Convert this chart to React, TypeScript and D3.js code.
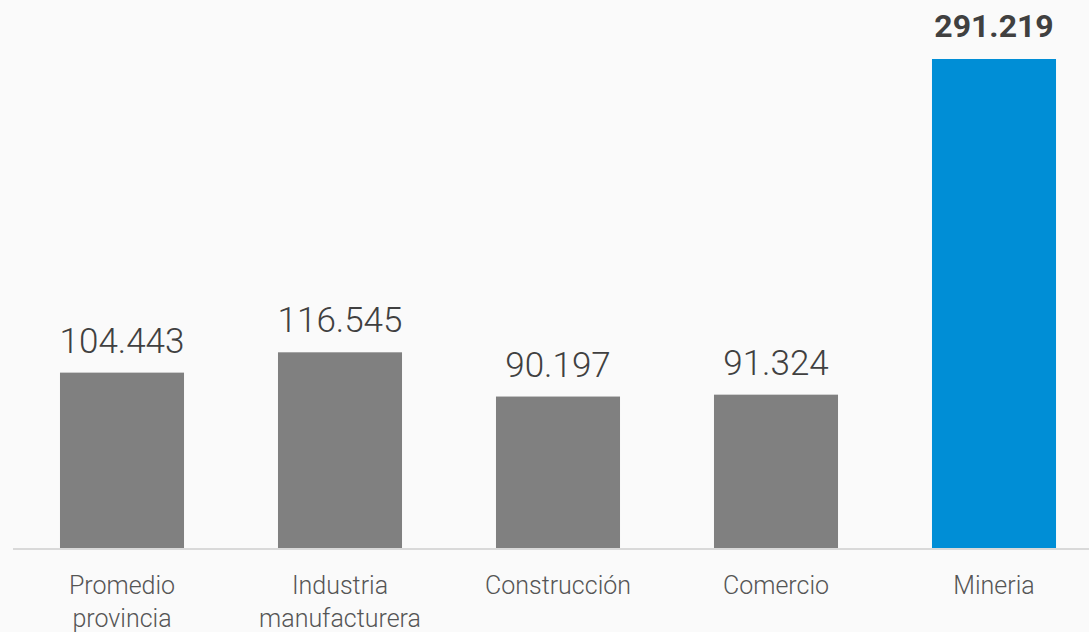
import React, { useEffect } from "react";
import * as d3 from "d3";

const categories: string[][] = [
  ["Promedio", "provincia"],
  ["Industria", "manufacturera"],
  ["Construcción"],
  ["Comercio"],
  ["Mineria"],
];
const values: number[] = [104443, 116545, 90197, 91324, 291219];
const highlight: boolean[] = [false, false, false, false, true];

const W = 1089;
const H = 632;

export default function App() {
  useEffect(() => {
    document.body.style.margin = "0";
    document.body.style.background = "#fafafa";
  }, []);

  const x = d3
    .scaleBand<number>()
    .domain(values.map((_, i) => i))
    .range([13, 1103])
    .paddingInner(0.431)
    .paddingOuter(0.2155);
  const y = d3.scaleLinear().domain([0, d3.max(values)!]).range([548, 59]);
  const fmt = d3.formatLocale({ decimal: ",", thousands: ".", grouping: [3], currency: ["$", ""] }).format(",d");

  return (
    <svg width={W} height={H} style={{ display: "block", background: "#fafafa" }} fontFamily="Roboto, sans-serif">
      <rect x={0} y={0} width={W} height={H} fill="#fafafa" />
      {values.map((v, i) => {
        const bx = x(i)!;
        const bw = x.bandwidth();
        const cx = bx + bw / 2;
        return (
          <g key={i}>
            <rect x={bx} y={y(v)} width={bw} height={y(0) - y(v)} fill={highlight[i] ? "#008ed6" : "#808080"} />
            <text
              x={cx}
              y={y(v) - (highlight[i] ? 22 : 20)}
              textAnchor="middle"
              fontSize={highlight[i] ? 32 : 35}
              fontWeight={highlight[i] ? 700 : 300}
              fill="#404040"
            >
              {fmt(v)}
            </text>
            {categories[i].map((line, j) => (
              <text key={j} x={cx} y={594 + j * 33} textAnchor="middle" fontSize={25} fontWeight={300} fill="#555555">
                {line}
              </text>
            ))}
          </g>
        );
      })}
      <line x1={13} x2={W} y1={y(0) + 1} y2={y(0) + 1} stroke="#d9d9d9" strokeWidth={2} />
    </svg>
  );
}
